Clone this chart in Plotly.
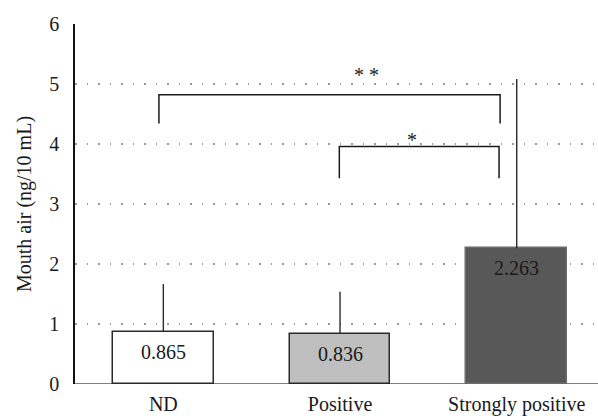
import plotly.graph_objects as go

categories = ["ND", "Positive", "Strongly positive"]
means = [0.865, 0.836, 2.263]
errors = [0.80, 0.70, 2.82]
bar_labels = ["0.865", "0.836", "2.263"]
fill_colors = ["#ffffff", "#bfbfbf", "#585858"]
line_colors = ["#2a2a2a", "#2a2a2a", "#6a6a6a"]
y_ticks = [0, 1, 2, 3, 4, 5, 6]

# significance brackets: x_left, x_right, y_leg_bottom, y_top, label, label_x, label_y
br_x_left = [-0.025, 0.996]
br_x_right = [1.906, 1.90]
br_y_bottom = [4.34, 3.43]
br_y_top = [4.82, 3.96]
br_labels = ["* *", "*"]
br_label_x = [1.15, 1.41]
br_label_y = [5.22, 4.14]

xpos = list(range(len(categories)))
FONT = "Liberation Serif"
FS = 20

fig = go.Figure()
fig.add_shape(type="line", x0=-0.5, x1=2.46, y0=0, y1=0, xref="x", yref="y",
              line=dict(color="#555", width=1.5), layer="below")
fig.add_trace(go.Bar(
    x=xpos, y=means, width=0.57,
    marker=dict(color=fill_colors, line=dict(color=line_colors, width=1.5)),
    error_y=dict(type="data", array=errors, arrayminus=[0] * len(means), symmetric=False,
                 width=0, thickness=1.4, color="#2a2a2a"),
    showlegend=False, hoverinfo="skip",
))

for xl, xr, yb, yt, lab, lx, ly in zip(br_x_left, br_x_right, br_y_bottom, br_y_top,
                                       br_labels, br_label_x, br_label_y):
    fig.add_trace(go.Scatter(
        x=[xl, xl, xr, xr], y=[yb, yt, yt, yb], mode="lines",
        line=dict(color="#1a1a1a", width=1.5), showlegend=False, hoverinfo="skip",
    ))
    fig.add_annotation(x=lx, y=ly, text=lab, showarrow=False, yanchor="middle", yshift=-4,
                       font=dict(family=FONT, size=FS, color="#222"))

for x, v, t in zip(xpos, means, bar_labels):
    fig.add_annotation(x=x, y=v, text=t, showarrow=False, yanchor="top", yshift=-7,
                       font=dict(family=FONT, size=FS, color="#1a1a1a"))

fig.update_layout(
    width=598, height=416,
    margin=dict(l=75, r=0, t=24, b=30),
    plot_bgcolor="white", paper_bgcolor="white",
    font=dict(family=FONT, size=FS, color="#1a1a1a"),
    bargap=0,
)
fig.update_xaxes(
    range=[-0.5, 2.46], tickvals=xpos, ticktext=categories,
    showline=False, showgrid=False, zeroline=False,
    ticks="", ticklabelstandoff=6,
    tickfont=dict(family=FONT, size=FS, color="#1a1a1a"),
)
fig.update_yaxes(
    range=[0, 6], tickvals=y_ticks,
    showline=True, linecolor="#111", linewidth=1.5,
    showgrid=True, gridcolor="#9a9a9a", gridwidth=1.5, griddash="1.5px,10px",
    zeroline=False, ticks="", ticklabelstandoff=10,
    tickfont=dict(family=FONT, size=FS, color="#1a1a1a"),
    title=dict(text="Mouth air (ng/10 mL)", standoff=12, font=dict(family=FONT, size=FS, color="#1a1a1a")),
)

fig.write_html("out.html")
